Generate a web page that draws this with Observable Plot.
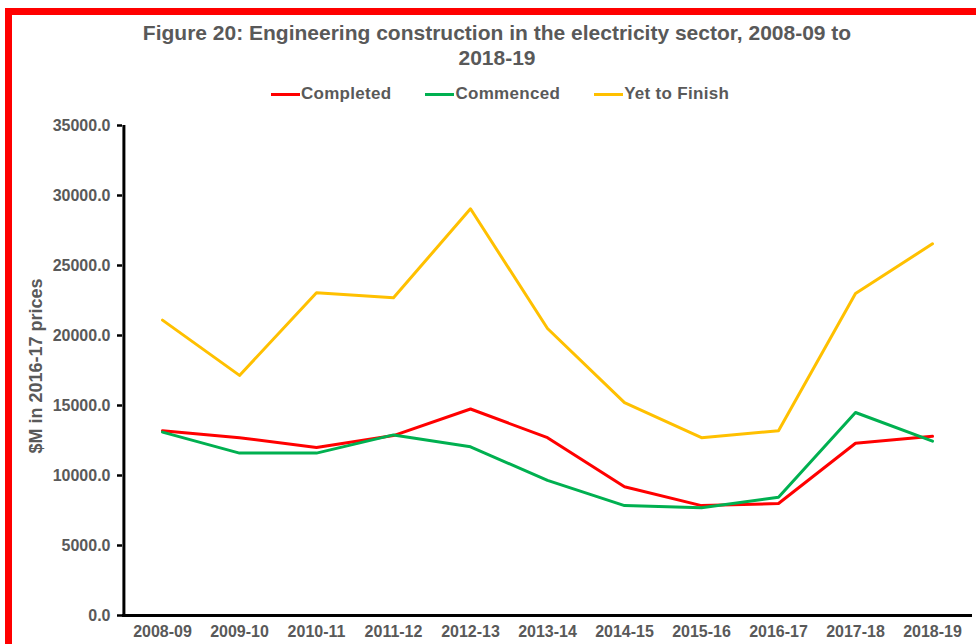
<!DOCTYPE html>
<html>
<head>
<meta charset="utf-8">
<script src="https://cdn.jsdelivr.net/npm/d3@7"></script>
<script src="https://cdn.jsdelivr.net/npm/@observablehq/plot@0.6"></script>
<style>
  html, body { margin: 0; padding: 0; background: #fff; }
  #page { position: relative; width: 976px; height: 644px; overflow: hidden; background: #fff;
          font-family: "Liberation Sans", Arial, sans-serif; color: #595959; }
  #frame { position: absolute; left: 5px; top: 8px; width: 1000px; height: 700px;
           border-top: 7px solid #ff0000; border-left: 7px solid #ff0000; box-sizing: border-box; }
  #title { position: absolute; left: 0; width: 994px; top: 20px; text-align: center;
           font-weight: bold; font-size: 21px; line-height: 25px; }
  #legend { position: absolute; left: 0; width: 1000px; top: 84px; text-align: center;
            font-weight: bold; font-size: 17px; letter-spacing: 0.3px; }
  #legend span.item { display: inline-block; margin: 0 17px; }
  #legend span.sw { display: inline-block; width: 29px; height: 3px; vertical-align: middle; margin-right: 1px; }
  #chart { position: absolute; left: 0; top: 110px; }
  #ylabel { position: absolute; left: 36px; top: 366px; transform: translate(-50%, -50%) rotate(-90deg);
            white-space: nowrap; font-weight: bold; font-size: 18px; }
</style>
</head>
<body>
<div id="page">
  <div id="frame"></div>
  <div id="title">Figure 20: Engineering construction in the electricity sector, 2008-09 to<br>2018-19</div>
  <div id="legend"></div>
  <div id="ylabel">$M in 2016-17 prices</div>
  <div id="chart"></div>
</div>
<script>
const years = ["2008-09","2009-10","2010-11","2011-12","2012-13","2013-14","2014-15","2015-16","2016-17","2017-18","2018-19"];
const seriesNames = ["Completed", "Commenced", "Yet to Finish"];
const seriesColors = ["#ff0000", "#00b050", "#ffc000"];
const completed   = [13200, 12700, 12000, 12850, 14750, 12700, 9200, 7850, 8000, 12300, 12800];
const commenced   = [13100, 11600, 11600, 12900, 12050, 9650, 7850, 7700, 8450, 14500, 12450];
const yetToFinish = [21100, 17150, 23050, 22700, 29050, 20500, 15200, 12700, 13200, 23000, 26550];
const yTicks = [0, 5000, 10000, 15000, 20000, 25000, 30000, 35000];

const valuesBySeries = [completed, commenced, yetToFinish];
const data = [];
seriesNames.forEach((s, i) => years.forEach((y, j) => data.push({series: s, year: y, value: valuesBySeries[i][j]})));

const legend = document.getElementById("legend");
seriesNames.forEach((s, i) => {
  const item = document.createElement("span");
  item.className = "item";
  item.innerHTML = `<span class="sw" style="background:${seriesColors[i]}"></span>${s}`;
  legend.appendChild(item);
});

const chart = Plot.plot({
  width: 976,
  height: 534,
  marginLeft: 122,
  marginRight: 4,
  marginTop: 15,
  marginBottom: 29,
  style: {fontFamily: "'Liberation Sans', Arial, sans-serif", fontSize: "16px", fontWeight: "bold", color: "#595959", background: "transparent"},
  x: {type: "point", domain: years, padding: 0.5, label: null, tickSize: 0, tickPadding: 10},
  y: {domain: [0, 35000], ticks: yTicks, tickFormat: d3.format(".1f"), label: null, tickSize: 5, tickPadding: 7},
  color: {domain: seriesNames, range: seriesColors},
  marks: [
    Plot.lineY(data, {x: "year", y: "value", stroke: "series", strokeWidth: 3}),
    Plot.ruleY([0], {stroke: "#000", strokeWidth: 3}),
    Plot.ruleX([0], {x: () => years[0], dx: -38.6, y1: 0, y2: 35000, stroke: "#000", strokeWidth: 3})
  ]
});
chart.querySelectorAll("g[aria-label='y-axis tick'] path, g[aria-label='y-axis tick']").forEach(el => { el.setAttribute("stroke", "#000"); el.setAttribute("stroke-width", "2.5"); });
document.getElementById("chart").appendChild(chart);
</script>
</body>
</html>
